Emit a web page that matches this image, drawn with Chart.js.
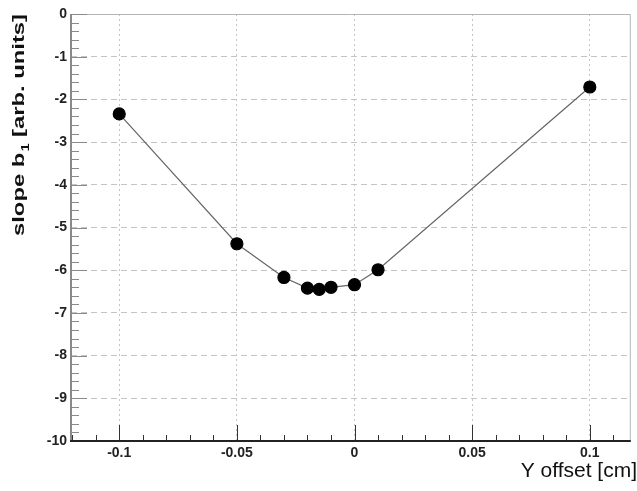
<!DOCTYPE html>
<html>
<head>
<meta charset="utf-8">
<script src="https://cdn.jsdelivr.net/npm/chart.js@4.4.0/dist/chart.umd.min.js"></script>
<style>
  html, body { margin: 0; padding: 0; background: #fff; }
  #wrap { width: 637px; height: 491px; }
</style>
</head>
<body>
<div id="wrap"><canvas id="slopeChart" width="637" height="491"></canvas></div>
<script>
// values
const xOffsets = [-0.1, -0.05, -0.03, -0.02, -0.015, -0.01, 0, 0.01, 0.1];
const slopes = [-2.34, -5.38, -6.17, -6.42, -6.45, -6.40, -6.34, -5.99, -1.71];

const xTicks = [-0.1, -0.05, 0, 0.05, 0.1];
const xTickLabels = ['-0.1', '-0.05', '0', '0.05', '0.1'];
const yTicks = [0, -1, -2, -3, -4, -5, -6, -7, -8, -9, -10];
const yTickLabels = ['0', '-1', '-2', '-3', '-4', '-5', '-6', '-7', '-8', '-9', '-10'];

const xTitle = 'Y offset [cm]';
const yTitle = 'slope b';
const yTitleSub = '1';
const yTitleRest = ' [arb. units]';

const tickFont = { family: 'Liberation Sans', size: 14, weight: 'bold' };

// ROOT-like frame, inward ticks and axis titles
const framePlugin = {
    id: 'frame',
    afterDraw(chart) {
        const ctx = chart.ctx;
        const a = chart.chartArea;
        const xs = chart.scales.x;
        const ys = chart.scales.y;
        ctx.save();

        // top/right frame
        ctx.strokeStyle = '#b4b4b4';
        ctx.lineWidth = 1;
        ctx.beginPath();
        ctx.moveTo(a.left, a.top + 0.5);
        ctx.lineTo(a.right + 0.5, a.top + 0.5);
        ctx.lineTo(a.right + 0.5, a.bottom);
        ctx.stroke();

        // y axis ticks (every 0.2, major every 1)
        ctx.strokeStyle = '#8a8a8a';
        ctx.lineWidth = 1;
        ctx.beginPath();
        for (let i = 0; i <= 50; i++) {
            const v = -i * 0.2;
            const y = Math.round(ys.getPixelForValue(v)) + 0.5;
            const len = (i % 5 === 0) ? 16 : 8;
            ctx.moveTo(a.left, y);
            ctx.lineTo(a.left + len, y);
        }
        ctx.stroke();

        // x axis ticks (every 0.01, major every 0.05)
        ctx.strokeStyle = '#333';
        ctx.beginPath();
        for (let i = -12; i <= 11; i++) {
            const v = i * 0.01;
            const x = Math.round(xs.getPixelForValue(v)) + 0.5;
            const len = (i % 5 === 0) ? 16 : 6;
            ctx.moveTo(x, a.bottom);
            ctx.lineTo(x, a.bottom - len);
        }
        ctx.stroke();

        // left axis line
        ctx.strokeStyle = '#8a8a8a';
        ctx.lineWidth = 2;
        ctx.beginPath();
        ctx.moveTo(a.left, a.top);
        ctx.lineTo(a.left, a.bottom);
        ctx.stroke();

        // bottom axis line
        ctx.strokeStyle = '#222';
        ctx.lineWidth = 2;
        ctx.beginPath();
        ctx.moveTo(a.left - 1, a.bottom);
        ctx.lineTo(a.right + 1, a.bottom);
        ctx.stroke();

        // x title, right aligned
        ctx.fillStyle = '#111';
        ctx.font = '21px "Liberation Sans"';
        ctx.textAlign = 'right';
        ctx.textBaseline = 'alphabetic';
        ctx.fillText(xTitle, 637, 477);

        // y title, rotated, aligned to top end
        ctx.translate(24, 236);
        ctx.rotate(-Math.PI / 2);
        const mainFont = 'bold 17px "Liberation Sans"';
        const subFont = 'bold 10px "Liberation Sans"';
        ctx.font = mainFont;
        const w1 = ctx.measureText(yTitle).width;
        const w3 = ctx.measureText(yTitleRest).width;
        ctx.font = subFont;
        const w2 = ctx.measureText(yTitleSub).width + 1;
        const total = w1 + w2 + w3;
        ctx.scale(222 / total, 1);
        ctx.textAlign = 'left';
        ctx.font = mainFont;
        ctx.fillText(yTitle, 0, 0);
        ctx.font = subFont;
        ctx.fillText(yTitleSub, w1 + 1, 5);
        ctx.font = mainFont;
        ctx.fillText(yTitleRest, w1 + w2, 0);

        ctx.restore();
    }
};

const ctx = document.getElementById('slopeChart').getContext('2d');

window.slopeChart = new Chart(ctx, {
    type: 'scatter',
    data: {
        datasets: [{
            data: xOffsets.map((x, i) => ({ x: x, y: slopes[i] })),
            showLine: true,
            borderColor: '#666',
            borderWidth: 1.2,
            backgroundColor: '#000',
            pointBackgroundColor: '#000',
            pointBorderColor: '#000',
            pointRadius: 6,
            tension: 0
        }]
    },
    options: {
        responsive: false,
        animation: false,
        devicePixelRatio: 1,
        layout: { padding: { top: 14, right: 6, left: 0, bottom: 0 } },
        plugins: {
            legend: { display: false },
            tooltip: { enabled: false }
        },
        scales: {
            x: {
                type: 'linear',
                min: -0.1205,
                max: 0.117,
                afterBuildTicks: scale => { scale.ticks = xTicks.map(v => ({ value: v })); },
                afterFit: scale => { scale.height = 50; },
                ticks: {
                    color: '#222',
                    font: tickFont,
                    padding: 4,
                    maxRotation: 0,
                    callback: (value) => {
                        const i = xTicks.findIndex(t => Math.abs(t - value) < 1e-9);
                        return i >= 0 ? xTickLabels[i] : '';
                    }
                },
                grid: {
                    drawTicks: false,
                    color: '#c4c4c4',
                    lineWidth: 1
                },
                border: { display: false, dash: [2, 3] }
            },
            y: {
                type: 'linear',
                min: -10,
                max: 0,
                afterBuildTicks: scale => { scale.ticks = yTicks.map(v => ({ value: v })); },
                afterFit: scale => { scale.width = 71; },
                ticks: {
                    color: '#222',
                    font: tickFont,
                    padding: 4,
                    callback: (value) => {
                        const i = yTicks.indexOf(value);
                        return i >= 0 ? yTickLabels[i] : '';
                    }
                },
                grid: {
                    drawTicks: false,
                    color: c => (c.tick && (c.tick.value === 0 || c.tick.value === -10)) ? 'rgba(0,0,0,0)' : '#c4c4c4',
                    lineWidth: 1
                },
                border: { display: false, dash: [6, 4] }
            }
        }
    },
    plugins: [framePlugin]
});
</script>
</body>
</html>
